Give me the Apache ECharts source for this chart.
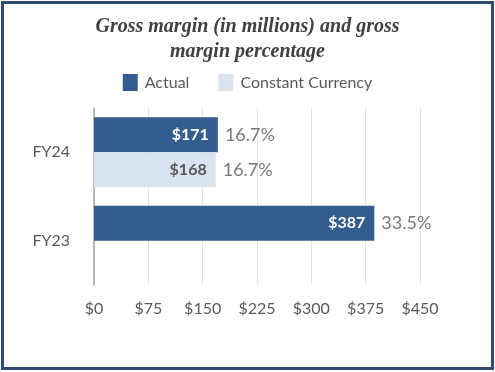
<!DOCTYPE html>
<html>
<head>
<meta charset="utf-8">
<script src="https://cdn.jsdelivr.net/npm/echarts@6/dist/echarts.min.js"></script>
<style>html,body{margin:0;padding:0;background:#fff}#c{width:495px;height:372px}</style>
</head>
<body>
<div id="c"></div>
<script>
const categories = ['FY24', 'FY23'];
const actualValues = [171, 387];
const constantValues = [168, null];
const actualPct = ['16.7%', '33.5%'];
const constantPct = ['16.7%', null];
const xTicks = [0, 75, 150, 225, 300, 375, 450];

const chart = echarts.init(document.getElementById('c'), null, {renderer: 'canvas'});
const FONT = 'Lato, "Open Sans", sans-serif';
const pctLabel = arr => ({
  show: true, position: 'right', distance: 7,
  formatter: p => arr[p.dataIndex] == null ? '' : arr[p.dataIndex],
  color: '#787878', fontSize: 18, fontFamily: FONT
});
chart.setOption({
  animation: false,
  title: {
    text: 'Gross margin (in millions) and gross\nmargin percentage',
    left: 'center', top: 9,
    textStyle: {fontFamily: '"Liberation Serif", serif', fontStyle: 'italic', fontWeight: 'bold', fontSize: 20, lineHeight: 25, color: '#404040'}
  },
  legend: {
    data: ['Actual', 'Constant Currency'],
    left: 'center', top: 69,
    icon: 'rect', itemWidth: 15, itemHeight: 17, itemGap: 29,
    textStyle: {fontFamily: FONT, fontSize: 16, color: '#595959', padding: [0, 0, 0, 2]}
  },
  grid: {left: 94, right: 75, top: 108, bottom: 87},
  xAxis: {
    type: 'value', min: xTicks[0], max: xTicks[xTicks.length - 1], interval: 75,
    axisLine: {show: false}, axisTick: {show: false},
    splitLine: {lineStyle: {color: '#e3e3e3', width: 1}},
    axisLabel: {formatter: v => '$' + v, color: '#595959', fontSize: 16, fontFamily: FONT, margin: 16}
  },
  yAxis: {
    type: 'category', data: categories, inverse: true,
    axisLine: {lineStyle: {color: '#a6a6a6', width: 1.5}},
    axisTick: {show: false},
    axisLabel: {color: '#595959', fontSize: 16, fontFamily: FONT, margin: 24, padding: [12, 0, 0, 0]}
  },
  series: [
    {name: 'Actual', type: 'bar', stack: 'a', data: actualValues, barWidth: 35, barGap: '0%',
     itemStyle: {color: '#335c8f'},
     label: {show: true, position: 'insideRight', distance: 9, formatter: p => '$' + p.value, color: '#ffffff', fontSize: 16, fontWeight: 'bold', fontFamily: FONT}},
    {name: 'ActualPct', type: 'bar', stack: 'a', data: actualValues.map(v => v == null ? null : 0), barWidth: 35,
     itemStyle: {color: 'transparent'}, label: pctLabel(actualPct)},
    {name: 'Constant Currency', type: 'bar', stack: 'c', data: constantValues, barWidth: 35, barGap: '0%',
     itemStyle: {color: '#dae3f0'},
     label: {show: true, position: 'insideRight', distance: 9, formatter: p => p.value == null ? '' : '$' + p.value, color: '#595959', fontSize: 16, fontWeight: 'bold', fontFamily: FONT}},
    {name: 'ConstantPct', type: 'bar', stack: 'c', data: constantValues.map(v => v == null ? null : 0), barWidth: 35,
     itemStyle: {color: 'transparent'}, label: pctLabel(constantPct)}
  ],
  graphic: [{
    type: 'rect', shape: {x: 2.5, y: 2.5, width: 490, height: 366},
    style: {fill: 'none', stroke: '#2f4a75', lineWidth: 3}, silent: true
  }]
});
</script>
</body>
</html>
